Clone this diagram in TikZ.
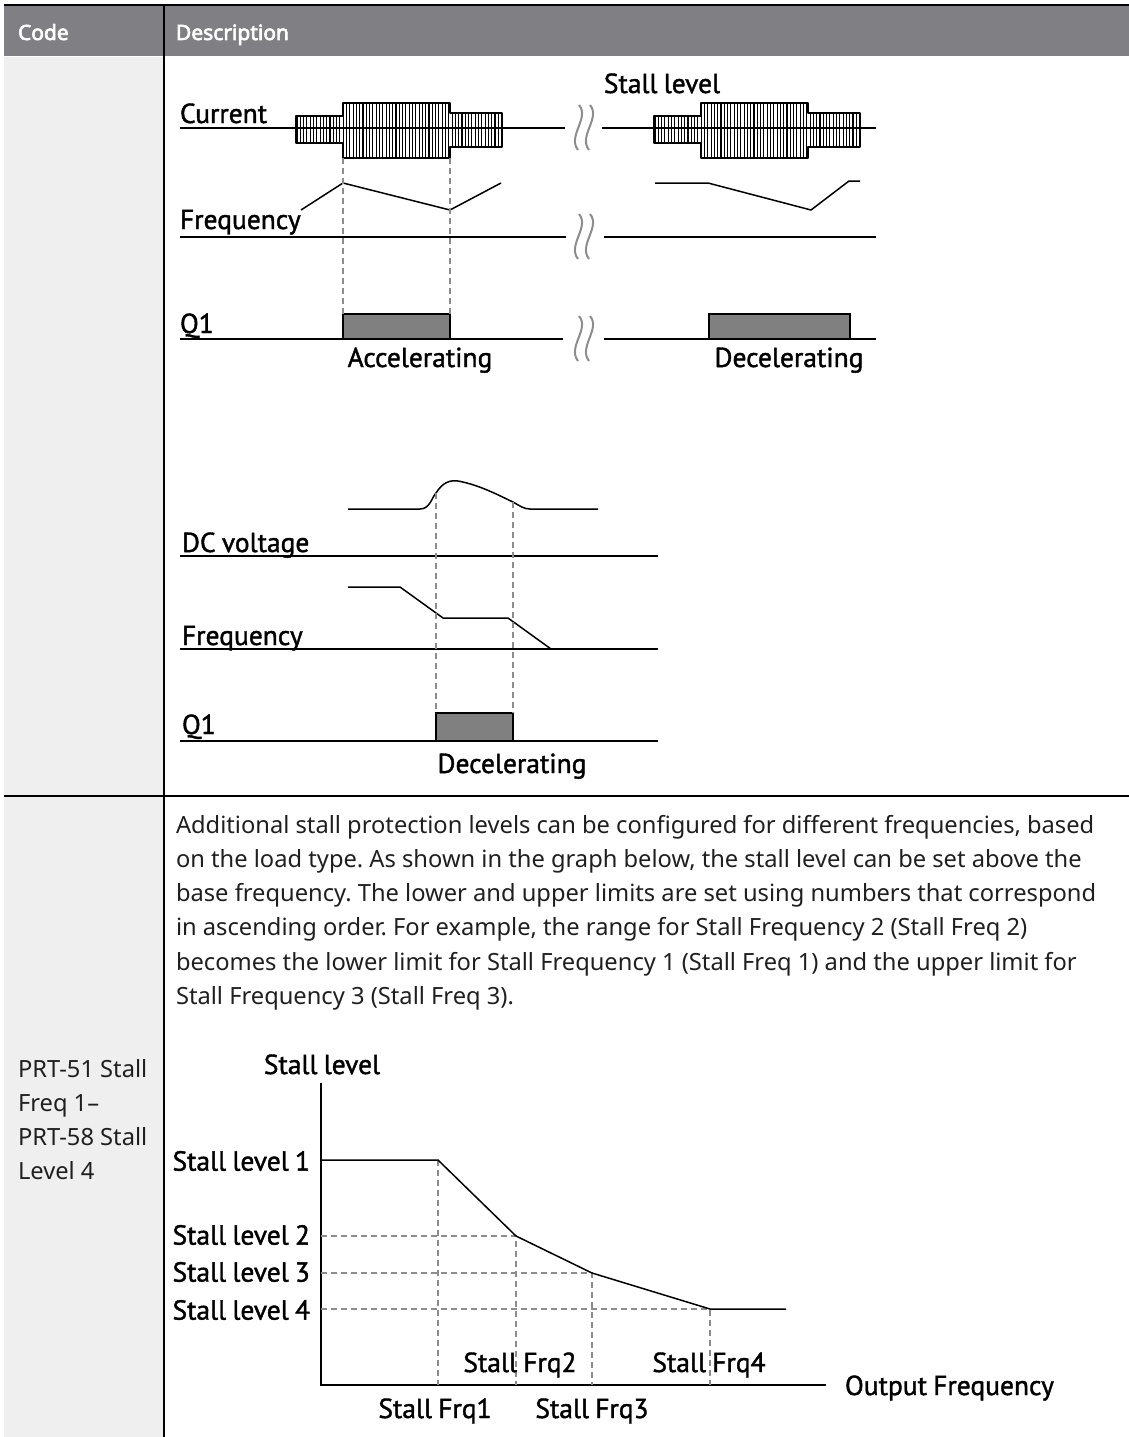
\documentclass[tikz,border=0pt]{standalone}
\usepackage{fontspec}
\setmainfont{Noto Sans}
\newfontfamily\headfont{Noto Sans}[FakeBold=3]
\newfontfamily\figfont{PT Sans}[FakeBold=1.4,WordSpace=0.85]
\usetikzlibrary{positioning}
\frenchspacing

\definecolor{headgray}{HTML}{808084}
\definecolor{codegray}{HTML}{EFEFEF}
\definecolor{boxgray}{HTML}{808080}
\definecolor{dashgray}{HTML}{8C8C8C}

\newcommand\blockoutline{(296,116) -- (343,116) -- (343,103) -- (450,103) -- (450,113) -- (502,113)
  -- (502,147) -- (450,147) -- (450,158) -- (343,158) -- (343,143) -- (296,143) -- cycle}

\begin{document}
\begin{tikzpicture}[x=1pt,y=-1pt,
  every node/.style={inner sep=0pt,outer sep=0pt},
  head/.style={font=\headfont\fontsize{21}{25}\selectfont,text=white,anchor=base west},
  body/.style={font=\fontsize{23.7}{34}\selectfont,text=black!88,anchor=base west},
  lbl/.style={font=\figfont\fontsize{27.5}{32}\selectfont,anchor=base west},
  ctr/.style={font=\figfont\fontsize{27.5}{32}\selectfont,anchor=base},
  lvl/.style={font=\figfont\fontsize{27.5}{32}\selectfont,anchor=east},
  tline/.style={line width=2pt},
  wave/.style={line width=1.5pt,line join=round},
  guide/.style={dashgray,line width=1.2pt,dash pattern=on 6pt off 4pt},
  qbox/.style={draw,fill=boxgray,line width=1.6pt},
  hatch/.style={line width=1.1pt},
  brk/.style={dashgray,line width=2pt}]
\useasboundingbox (0,0) rectangle (1129,1437);

% table frame
\fill[headgray] (4,6) rectangle (1129,56);
\fill[codegray] (4,57) rectangle (163,1437);
\draw[tline] (4,5) -- (1129,5);
\draw[tline] (4,796) -- (1129,796);
\draw[tline] (164,5) -- (164,1437);
\node[head] (code) at (18,40) {Code};
\node[head] (desc) at (176,40) {Description};

% current blocks
\foreach \dx in {0,358}{
\begin{scope}[xshift=\dx]
  \begin{scope}
    \clip \blockoutline;
    \foreach \x in {297,300.3,...,502} \draw[hatch] (\x,100) -- (\x,160);
  \end{scope}
  \draw[line width=1.6pt,line join=round] \blockoutline;
\end{scope}}
\node[ctr] (stall) at (662,93) {Stall level};
\node[lbl] (cur) at (180,123) {Current};
\draw[tline] (180,128) -- (565,128) (602,128) -- (876,128);

% frequency
\node[lbl] (freq) at (180,229) {Frequency};
\draw[tline] (180,237) -- (566,237) (604,237) -- (876,237);
\draw[wave] (301,210) -- (343,183) -- (450,210) -- (501,183);
\draw[wave] (655,183) -- (708,183) -- (811,210) -- (849,181) -- (860,181);

% Q1
\node[lbl] (q) at (180,333) {Q1};
\draw[tline] (180,339) -- (563,339) (604,339) -- (876,339);
\node[qbox,minimum width=107pt,minimum height=25pt,anchor=south west] (acc) at (343,339) {};
\node[qbox,minimum width=141pt,minimum height=25pt,anchor=south west] (dec) at (709,339) {};
\coordinate (a1) at (343,158);
\coordinate (a2) at (450,158);
\draw[guide] (a1) -- (acc.north west);
\draw[guide] (a2) -- (acc.north east);
\node[ctr] (acctxt) at (420,367) {Accelerating};
\node[ctr] (dectxt) at (789,367) {Decelerating};

% breaks
\foreach \y in {128,237,339}
  \foreach \c in {579,590}
    \draw[brk] (\c,\y-23) .. controls (\c+11,\y-10) and (\c-12,\y+8) .. (\c-1,\y+22);

% DC voltage
\coordinate (v1) at (436,493);
\coordinate (v2) at (513,502);
\draw[wave] (348,509) -- (420,509) .. controls (430,509) and (432,497) .. (v1)
  .. controls (443,482) and (450,480) .. (458,481) .. controls (480,485) and (500,496) .. (v2)
  .. controls (520,506) and (524,509) .. (530,509) -- (598,509);
\node[lbl] (dc) at (182,552) {DC voltage};
\draw[tline] (180,556) -- (658,556);

\draw[wave] (348,587) -- (400,587) -- (443,618) -- (508,618) -- (551,649);
\node[lbl] (freq2) at (182,645) {Frequency};
\draw[tline] (180,649) -- (658,649);

\node[lbl] (q2) at (182,734) {Q1};
\draw[tline] (180,741) -- (658,741);
\node[qbox,minimum width=77pt,minimum height=28pt,anchor=south west] (dec2) at (436,741) {};
\draw[guide] (v1) -- (dec2.north west);
\draw[guide] (v2) -- (dec2.north east);
\node[ctr] (dec2txt) at (512,773) {Decelerating};

% description text
\foreach \txt [count=\i] in {{Additional stall protection levels can be configured for different frequencies, based},
  {on the load type. As shown in the graph below, the stall level can be set above the},
  {base frequency. The lower and upper limits are set using numbers that correspond},
  {in ascending order. For example, the range for Stall Frequency 2 (Stall Freq 2)},
  {becomes the lower limit for Stall Frequency 1 (Stall Freq 1) and the upper limit for},
  {Stall Frequency 3 (Stall Freq 3).}}
  \node[body] (t\i) at (176,{833+34.3*(\i-1)}) {\txt};
\foreach \txt [count=\i] in {PRT-51 Stall,Freq 1–,PRT-58 Stall,Level 4}
  \node[body] (c\i) at (18,{1077+34.3*(\i-1)}) {\txt};

% stall level graph
\coordinate (o) at (321,1385);
\coordinate (s0) at (321,1160);
\coordinate (s1) at (438,1160);
\coordinate (s2) at (516,1236);
\coordinate (s3) at (592,1273);
\coordinate (s4) at (710,1309);
\coordinate (s5) at (786,1309);
\draw[tline] (321,1083) -- (o) -- (826,1385);
\draw[guide] (s1) -- (s1 |- o);
\foreach \p in {s2,s3,s4}
  \draw[guide] (\p -| o) -- (\p) -- (\p |- o);
\draw[wave] (s0) -- (s1) -- (s2) -- (s3) -- (s4) -- (s5);
\node[ctr] (ylab) at (322,1074) {Stall level};
\node[lvl] (l1) at (310,1161) {Stall level 1};
\node[lvl] (l2) at (310,1235) {Stall level 2};
\node[lvl] (l3) at (310,1272) {Stall level 3};
\node[lvl] (l4) at (310,1310) {Stall level 4};
\node[ctr] (f2) at (520,1372) {Stall Frq2};
\node[ctr] (f4) at (709,1372) {Stall Frq4};
\node[ctr] (f1) at (435,1418) {Stall Frq1};
\node[ctr] (f3) at (592,1418) {Stall Frq3};
\node[lbl] (xlab) at (845,1395) {Output Frequency};
\end{tikzpicture}
\end{document}
